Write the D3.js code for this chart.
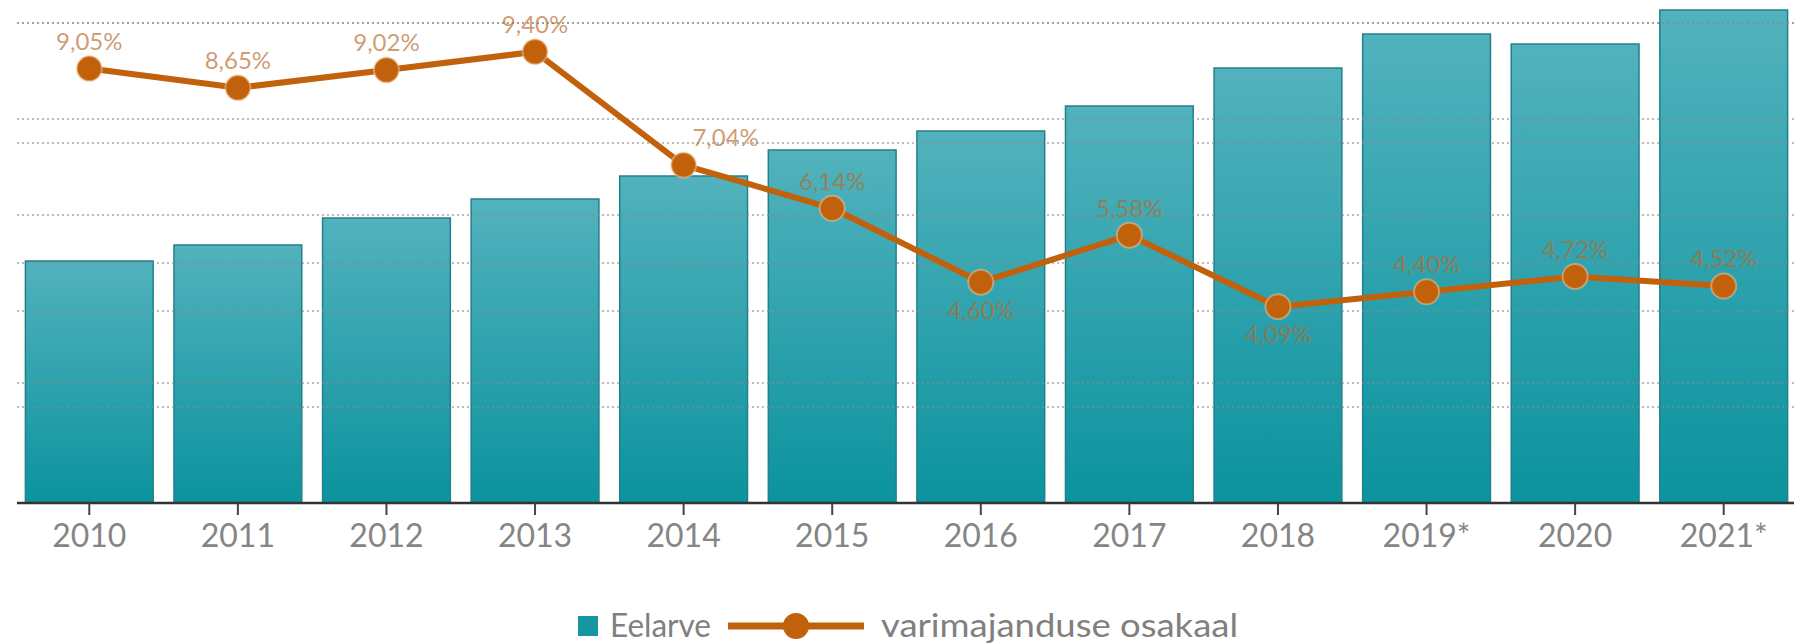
<!DOCTYPE html>
<html>
<head>
<meta charset="utf-8">
<script src="https://cdn.jsdelivr.net/npm/d3@7"></script>
<style>
  html, body { margin: 0; padding: 0; background: #fff; }
  svg { display: block; font-family: Lato, "Open Sans", "DejaVu Sans", sans-serif; }
</style>
</head>
<body>
<svg id="chart" width="1794" height="643"></svg>
<script>
// ---- data ----
const years = ["2010","2011","2012","2013","2014","2015","2016","2017","2018","2019*","2020","2021*"];
const budget = [6050, 6450, 7125, 7600, 8175, 8825, 9300, 9925, 10875, 11725, 11475, 12325]; // Eelarve (estimated, hidden axis)
const shadeShare = [9.05, 8.65, 9.02, 9.40, 7.04, 6.14, 4.60, 5.58, 4.09, 4.40, 4.72, 4.52]; // varimajanduse osakaal, %
const shareLabels = ["9,05%","8,65%","9,02%","9,40%","7,04%","6,14%","4,60%","5,58%","4,09%","4,40%","4,72%","4,52%"];
const labelPlacement = ["above","above","above","above","right","above","below","above","below","above","above","above"];
const budgetTicks = [3000, 6000, 9000, 12000];
const shareTicks = [2, 4, 6, 8, 10];
const legendNames = ["Eelarve", "varimajanduse osakaal"];

// ---- layout ----
const svg = d3.select("#chart");
const plotTop = 23, plotBottom = 503, gridLeft = 17, gridRight = 1794;
const barColorTop = "#52b2bd", barColorBottom = "#0b939e", barStroke = "#22808a";
const lineColor = "#c2610c";
const labelColor = "#b8692a";

const x = d3.scaleBand().domain(years).range([15, 1798]).paddingInner(0.14).paddingOuter(0.07);
const yBar = d3.scaleLinear().domain([0, 12000]).range([plotBottom, plotTop]);
const yPct = d3.scaleLinear().domain([0, 10]).range([plotBottom, plotTop]);

const defs = svg.append("defs");
const grad = defs.append("linearGradient").attr("id", "barGrad").attr("x1", 0).attr("y1", 0).attr("x2", 0).attr("y2", 1);
grad.append("stop").attr("offset", "0%").attr("stop-color", barColorTop);
grad.append("stop").attr("offset", "100%").attr("stop-color", barColorBottom);

// bars
svg.append("g").selectAll("rect").data(years).join("rect")
  .attr("x", d => x(d))
  .attr("width", x.bandwidth())
  .attr("y", (d, i) => yBar(budget[i]))
  .attr("height", (d, i) => plotBottom - yBar(budget[i]))
  .attr("fill", "url(#barGrad)")
  .attr("stroke", barStroke)
  .attr("stroke-width", 1.5);

// gridlines (both axes, dotted)
const gridVals = budgetTicks.map(t => yBar(t)).concat(shareTicks.map(t => yPct(t)));
svg.append("g").selectAll("line").data(gridVals).join("line")
  .attr("x1", gridLeft).attr("x2", gridRight)
  .attr("y1", d => d).attr("y2", d => d)
  .attr("stroke", "#8a8a8a")
  .attr("stroke-opacity", 0.75)
  .attr("stroke-width", 1.6)
  .attr("stroke-dasharray", "2,3");

// x axis
const xAxis = svg.append("g").attr("transform", `translate(0,${plotBottom})`)
  .call(d3.axisBottom(x).tickSize(12).tickSizeOuter(0).tickPadding(9));
xAxis.select(".domain").attr("stroke", "#333").attr("stroke-width", 2.5)
  .attr("d", `M${gridLeft},0H${gridRight}`);
xAxis.selectAll(".tick line").attr("stroke", "#444").attr("stroke-width", 2);
xAxis.selectAll(".tick text").attr("fill", "#858585").attr("font-size", 32)
  .attr("font-family", "Lato, 'Open Sans', sans-serif");

// line
const cx = i => x(years[i]) + x.bandwidth() / 2;
const line = d3.line().x((d, i) => cx(i)).y(d => yPct(d));
svg.append("path").datum(shadeShare)
  .attr("d", line)
  .attr("fill", "none")
  .attr("stroke", lineColor)
  .attr("stroke-width", 6)
  .attr("stroke-linejoin", "round");

svg.append("g").selectAll("circle").data(shadeShare).join("circle")
  .attr("cx", (d, i) => cx(i))
  .attr("cy", d => yPct(d))
  .attr("r", 12.5)
  .attr("fill", lineColor)
  .attr("stroke", "#f3c9a0")
  .attr("stroke-opacity", 0.5)
  .attr("stroke-width", 2);

// value labels
svg.append("g").selectAll("text").data(shareLabels).join("text")
  .attr("x", (d, i) => cx(i) + (labelPlacement[i] === "right" ? 42 : 0))
  .attr("y", (d, i) => yPct(shadeShare[i]) + (labelPlacement[i] === "below" ? 28 : -27))
  .attr("dy", "0.35em")
  .attr("text-anchor", "middle")
  .attr("font-size", 24)
  .attr("fill", labelColor)
  .attr("fill-opacity", 0.68)
  .text(d => d);

// legend
const legY = 626;
const leg = svg.append("g");
leg.append("rect").attr("x", 578).attr("y", legY - 10).attr("width", 20).attr("height", 20)
  .attr("fill", "#16979f");
leg.append("text").attr("x", 610).attr("y", legY).attr("dy", "0.35em")
  .attr("font-size", 32).attr("fill", "#808080")
  .attr("textLength", 101).attr("lengthAdjust", "spacingAndGlyphs").text(legendNames[0]);
leg.append("line").attr("x1", 728).attr("x2", 864).attr("y1", legY).attr("y2", legY)
  .attr("stroke", lineColor).attr("stroke-width", 7);
leg.append("circle").attr("cx", 796).attr("cy", legY).attr("r", 13).attr("fill", lineColor);
leg.append("text").attr("x", 881).attr("y", legY).attr("dy", "0.35em")
  .attr("font-size", 32).attr("fill", "#808080")
  .attr("textLength", 357).attr("lengthAdjust", "spacingAndGlyphs").text(legendNames[1]);
</script>
</body>
</html>
